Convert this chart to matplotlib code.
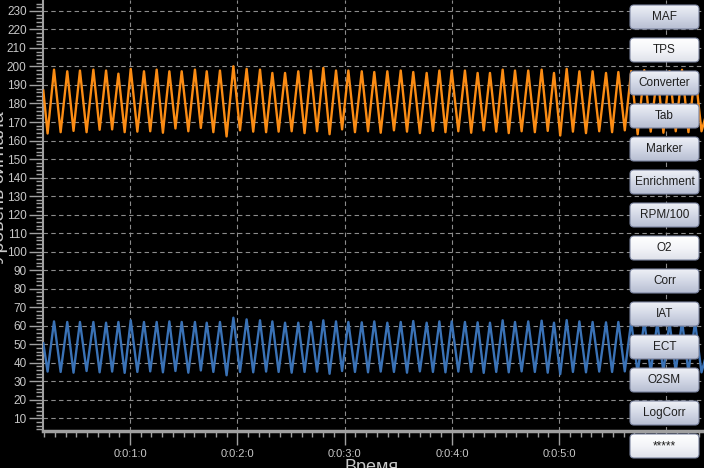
import matplotlib
matplotlib.use('Agg')
import matplotlib.pyplot as plt
import numpy as np
from matplotlib.patches import FancyBboxPatch
from matplotlib.ticker import MultipleLocator, FuncFormatter
from matplotlib.colors import LinearSegmentedColormap

plt.rcParams['font.family'] = ['Liberation Sans', 'DejaVu Sans']

# ---------------- data (time in seconds) ----------------
peak_t = [17.5, 24.9, 32.0, 39.5, 46.6, 53.5, 60.4, 67.8, 74.9, 82.0, 88.9, 96.3,
          102.9, 110.3, 117.8, 125.2, 132.7, 139.6, 146.7, 154.1, 161.1, 168.1, 175.2,
          182.1, 189.6, 196.6, 203.9, 211.4, 218.4, 225.9, 233.0, 239.9, 247.3, 254.4,
          261.3, 268.4, 275.3, 282.7, 290.2, 297.1, 304.2, 311.3, 318.7, 326.2, 333.1,
          340.3, 347.6, 354.9, 361.7, 368.7, 376.0]
trough_t = [13.9, 21.2, 28.4, 35.7, 43.0, 50.0, 57.0, 64.1, 71.3, 78.4, 85.4, 92.6,
            99.6, 106.6, 114.0, 121.5, 128.9, 136.1, 143.1, 150.4, 157.6, 164.6, 171.6,
            178.6, 185.8, 193.1, 200.2, 207.6, 214.9, 222.1, 229.4, 236.4, 243.6, 250.8,
            257.8, 264.8, 271.8, 279.0, 286.4, 293.6, 300.6, 307.7, 315.0, 322.4, 329.6,
            336.7, 343.9, 351.2, 358.3, 365.2, 372.3, 379.6]
start_t, end_t = 11.5, 382.5

orange_peaks = [198.3, 197.4, 197.8, 198.3, 197.8, 196.1, 198.7, 197.4, 198.3, 197.4,
                197.4, 198.3, 197.4, 197.8, 200.1, 198.7, 198.3, 196.5, 196.5, 197.4,
                197.9, 199.2, 197.8,
                197.8, 197.4, 197.0, 197.4, 197.8, 197.0, 196.5, 197.8, 197.8, 197.8,
                196.5, 196.5, 198.3, 197.8, 197.8, 198.3, 196.5, 198.7, 197.4, 197.4,
                196.5, 197.0,
                197.5, 198.0, 196.8, 197.5, 198.2, 197.0]
orange_troughs = [163.8, 164.5, 165.2, 164.5, 165.8, 166.0, 164.5, 164.8, 165.0, 164.2,
                  166.5, 165.0, 166.8, 164.5, 162.2, 165.5, 164.8, 164.5, 164.8, 165.0,
                  164.0, 165.0, 163.4, 166.0, 164.5, 165.0, 164.2, 165.5, 164.8, 164.0,
                  165.2, 164.5, 165.0, 164.2, 165.5, 164.8, 164.0, 165.0, 164.5, 165.2,
                  162.7, 164.8, 164.0, 165.0, 164.5, 165.5, 163.4, 164.8, 164.2, 165.0,
                  164.5, 165.0]
orange_start, orange_end = 187.0, 175.0

blue_peaks = [62.3, 62.0, 62.0, 62.0, 61.6, 62.0, 62.9, 62.0, 62.0, 62.3,
              62.0, 62.0, 61.6, 62.0, 64.3, 63.4, 62.9, 62.3, 61.6, 61.6,
              62.0, 62.9, 62.3,
              62.0, 61.8, 62.3, 61.6, 62.0, 62.5, 61.6, 62.3, 62.3, 62.0,
              61.8, 61.6, 62.9, 62.0, 62.3, 62.7, 61.6, 63.0, 62.3, 62.0,
              61.8, 62.0,
              62.3, 62.5, 61.8, 62.0, 62.5, 62.0]
blue_troughs = [35.2, 35.0, 34.6, 35.5, 34.8, 35.2, 34.5, 35.0, 35.3, 34.8,
                35.5, 34.6, 35.8, 35.0, 33.2, 35.0, 34.8, 35.2, 35.0, 34.6,
                35.0, 35.2, 34.0, 35.5, 35.0, 34.8, 35.2, 35.0, 34.6, 35.3,
                35.0, 34.8, 35.2, 35.0, 34.5, 35.0, 34.8, 35.3, 35.0, 34.6,
                33.8, 35.0, 34.8, 35.2, 35.0, 35.3, 34.2, 35.0, 34.8, 35.2,
                35.0, 34.8]
blue_start, blue_end = 50.5, 45.0

button_labels = ["MAF", "TPS", "Converter", "Tab", "Marker", "Enrichment", "RPM/100",
                 "O2", "Corr", "IAT", "ECT", "O2SM", "LogCorr", "*****"]
button_active = ["TPS", "O2", "*****"]
visible_minutes = [1, 2, 3, 4, 5]


def build(sv, pk, tr, ev):
    t, v = [start_t], [sv]
    for i in range(len(pk)):
        t += [trough_t[i], peak_t[i]]
        v += [tr[i], pk[i]]
    t += [trough_t[-1], end_t]
    v += [tr[-1], ev]
    return t, v


def fmt_time(x, p):
    m = int(round(x / 60))
    return f"0:0:{m}:0" if m in visible_minutes else ""


W, H = 704, 468
fig = plt.figure(figsize=(W / 100, H / 100), dpi=100, facecolor='black')
ax = fig.add_axes([43.3 / W, 37 / H, 1 - 43.3 / W, 431 / H])
ax.set_facecolor('black')

ot, ov = build(orange_start, orange_peaks, orange_troughs, orange_end)
bt, bv = build(blue_start, blue_peaks, blue_troughs, blue_end)
ax.plot(ot, ov, color='#fb8c14', lw=1.7, zorder=3)
ax.plot(bt, bv, color='#3a72b6', lw=1.7, zorder=3)

ax.set_xlim(11.5, 381.0)
ax.set_ylim(3.1, 235.9)

ax.xaxis.set_major_locator(MultipleLocator(60))
ax.xaxis.set_minor_locator(MultipleLocator(6))
ax.xaxis.set_major_formatter(FuncFormatter(fmt_time))
ax.yaxis.set_major_locator(MultipleLocator(10))
ax.yaxis.set_minor_locator(MultipleLocator(2))

ax.tick_params(axis='both', which='major', direction='out', length=10, width=1,
               color='#a0a0a0', labelcolor='#c8c8c8', labelsize=8.5)
ax.tick_params(axis='x', which='minor', direction='out', length=4, width=1, color='#a0a0a0')
ax.tick_params(axis='y', which='minor', direction='out', length=5, width=1, color='#a0a0a0')
ax.tick_params(axis='x', which='major', pad=3, labelsize=8)
ax.tick_params(axis='y', which='major', pad=2)

for s in ('top', 'right'):
    ax.spines[s].set_visible(False)
ax.spines['bottom'].set_color('#a0a0a0')
ax.spines['bottom'].set_linewidth(2.5)
ax.spines['left'].set_color('#a0a0a0')
ax.spines['left'].set_linewidth(1.5)

ax.set_axisbelow(True)
ax.grid(True, which='major', color='#8c8c8c', linestyle=(0, (4, 3)), linewidth=0.8)

fig.text(372 / W, (H - 459) / H, 'Время', ha='center', va='top', fontsize=13, color='#c8c8c8')
fig.text(0.0, 1 - 188 / H, 'Уровень сигнала', rotation=90, ha='center', va='center',
         fontsize=14, color='#c8c8c8')

# ---------------- button panel overlay ----------------
ovl = fig.add_axes([0, 0, 1, 1], zorder=10)
ovl.patch.set_alpha(0)
cm_norm = LinearSegmentedColormap.from_list('n', ['#eef0f6', '#d3d8e6', '#b7bed2'])
cm_act = LinearSegmentedColormap.from_list('a', ['#ffffff', '#f3f4f8', '#dfe2ea'])
grad = np.linspace(0, 1, 64)[:, None]
bx, bw, bh = 630, 69, 24
for i, lab in enumerate(button_labels):
    cy = 17 + 33 * i
    y0 = cy - bh / 2
    patch = FancyBboxPatch((bx, y0), bw, bh, boxstyle='round,pad=0,rounding_size=4',
                           fc='none', ec='#7a839e', lw=0.8, zorder=12)
    ovl.add_patch(patch)
    im = ovl.imshow(grad, extent=[bx, bx + bw, y0 + bh, y0], aspect='auto',
                    cmap=cm_act if lab in button_active else cm_norm, zorder=11,
                    interpolation='bilinear')
    im.set_clip_path(patch)
    ovl.text(bx + bw / 2, cy, lab, ha='center', va='center', fontsize=8.5,
             color='#1e1e1e', zorder=13)
ovl.set_xlim(0, W)
ovl.set_ylim(H, 0)
ovl.axis('off')

fig.savefig('out.png', dpi=100, facecolor='black')
